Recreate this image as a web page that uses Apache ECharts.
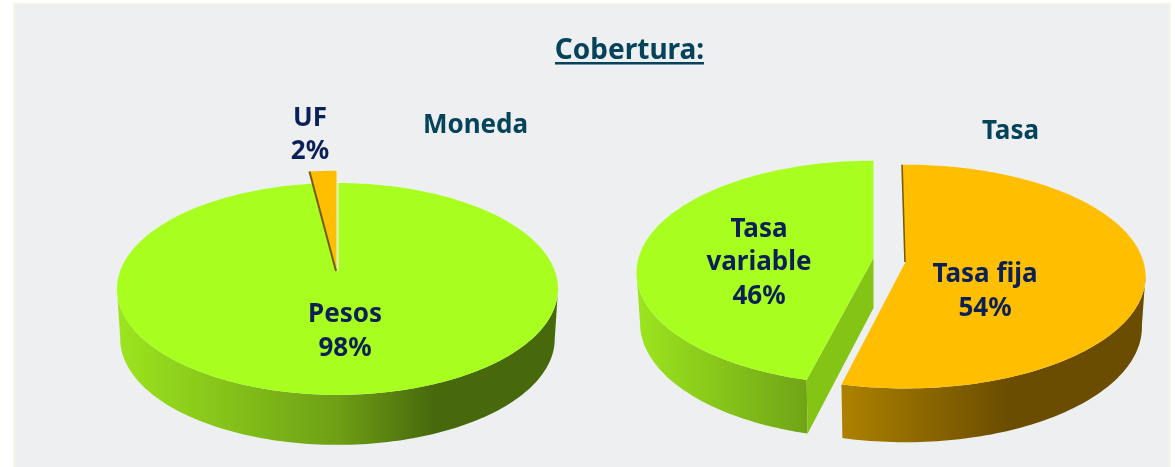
<!DOCTYPE html>
<html><head><meta charset="utf-8">
<style>html,body{margin:0;padding:0;background:#fff}#c{width:1175px;height:467px}</style>
<script src="https://cdn.jsdelivr.net/npm/echarts@6/dist/echarts.min.js"></script>
</head><body><div id="c"></div>
<script>
const monedaCategories = ['Pesos', 'UF'];
const monedaValues = [98, 2];
const tasaCategories = ['Tasa fija', 'Tasa variable'];
const tasaValues = [54, 46];
const chartTitle = 'Cobertura:';
const monedaTitle = 'Moneda';
const tasaTitle = 'Tasa';

const FONT = '"Noto Sans", sans-serif';
const LABEL = '#0b2056', HEAD = '#04435a', BG = '#edeff1';

const chart = echarts.init(document.getElementById('c'), null, {renderer: 'canvas'});

function hgrad(x0, x1, stops) {
  return new echarts.graphic.LinearGradient(x0, 0, x1, 0,
    stops.map(s => ({offset: s[0], color: s[1]})), true);
}
const GREEN_TOP = '#a8ff1f', ORANGE_TOP = '#ffbf00';

// Perspective disc: turn (share of circle, radius) into a pixel position.
function project(p, share, r, lower) {
  const a = (share / 100) * 2 * Math.PI + (p.rot || 0);
  const X = Math.sin(a) * r, Y = -Math.cos(a) * r;
  const w = 1 - p.persp * Y;
  const sx = lower ? p.lowSX : 1, sy = lower ? p.lowSY : 1, dy = lower ? p.depth : 0;
  return [p.cx + p.B * sx * X / w, p.cy + dy + p.A * sy * Y / w];
}
function arc(p, s0, s1, r, lower) {
  const pts = [], n = Math.max(2, Math.ceil((s1 - s0) * 3));
  for (let i = 0; i <= n; i++) pts.push(project(p, s0 + (s1 - s0) * i / n, r, lower));
  return pts;
}

function makeRender(categories, layout) {
  return function (params, api) {
    const i = params.dataIndex;
    const start = api.value(0), val = api.value(1);
    const sl = layout.slices[i];
    const p = Object.assign({}, layout.disc, {
      cx: layout.disc.cx + sl.dx, cy: layout.disc.cy + sl.dy,
      B: sl.B || layout.disc.B, rot: (sl.rotDeg || 0) * Math.PI / 180
    });
    const r = sl.r || 1;
    const end = start + val;
    const children = [];
    const top = arc(p, start, end, r, false);
    if (sl.side) {
      // Wall runs only between the two points where the disc outline turns (front half).
      const turn = Math.acos(-p.persp) / (2 * Math.PI) * 100;
      const s0 = Math.max(start, turn), s1 = Math.min(end, 100 - turn);
      const upper = arc(p, s0, s1, r, false), low = arc(p, s0, s1, r, true);
      children.push({type: 'polygon', shape: {points: upper.concat(low.slice().reverse())},
        style: {fill: hgrad(sl.side.x0, sl.side.x1, sl.side.stops)}});
    }
    if (sl.cut !== undefined) {
      const cs = sl.cut === 'start' ? start : end;
      const c = project(p, 0, 0, false), cl = project(p, 0, 0, true);
      children.push({type: 'polygon', shape: {points: [c, project(p, cs, r, false), project(p, cs, r, true), cl]},
        style: {fill: sl.cutColor}});
    }
    const apex = project(p, 0, 0, false);
    children.push({type: 'polygon', shape: {points: [apex].concat(top)}, style: {fill: sl.color}});
    (sl.edges || []).forEach(e => {
      const rim = project(p, e.at === 'start' ? start : end, r, false);
      children.push({type: 'line', shape: {x1: apex[0] + e.off, y1: apex[1], x2: rim[0] + e.off, y2: rim[1]},
        style: {stroke: e.color, lineWidth: e.width}});
    });
    const lab = sl.labelLines(categories[i], val);
    children.push({type: 'text', style: {text: lab, x: sl.lx, y: sl.ly, align: 'center', verticalAlign: 'middle',
      fill: LABEL, font: 'bold 26px ' + FONT, lineHeight: 33.5}, z2: 10});
    return {type: 'group', children};
  };
}

const oneWordLabel = (n, v) => n + '\n' + v + '%';
const wrapLabel = (n, v) => n.replace(' ', '\n') + '\n' + v + '%';

const monedaLayout = {
  disc: {cx: 337.5, cy: 272, A: 103.2, B: 217.7, persp: 0.16, depth: 50, lowSX: 0.985, lowSY: 1},
  slices: [
    {dx: 0, dy: 0, color: GREEN_TOP, lx: 345, ly: 331.5, labelLines: oneWordLabel,
     side: {x0: 117, x1: 558, stops: [[0, '#9ce51e'], [0.5, '#6e9f15'], [0.72, '#47690c'], [1, '#47690c']]}},
    {dx: -1, dy: -1, r: 1.15, color: ORANGE_TOP, lx: 310, ly: 135, labelLines: oneWordLabel,
     edges: [{at: 'start', off: -0.5, color: '#7a5a00', width: 2}, {at: 'end', off: 1.5, color: '#e9f3d8', width: 1}]}
  ]
};
const tasaLayout = {
  disc: {cx: 889, cy: 260, A: 110, B: 236, persp: 0.13, depth: 50, lowSX: 0.985, lowSY: 1.03},
  slices: [
    {dx: 16.5, dy: 2, B: 238, rotDeg: -0.8, color: ORANGE_TOP, lx: 985, ly: 291.5, labelLines: oneWordLabel,
     side: {x0: 844, x1: 1144, stops: [[0, '#ad8000'], [0.55, '#6a4d00'], [1, '#6a4d00']]},
     edges: [{at: 'start', off: -0.5, color: '#7a5a00', width: 1.6}]},
    {dx: -15.5, dy: -2, B: 235, color: GREEN_TOP, lx: 759, ly: 263, labelLines: wrapLabel,
     side: {x0: 637, x1: 806, stops: [[0, '#9ce51e'], [1, '#70a416']]},
     cut: 'start', cutColor: '#84c414'}
  ]
};

function sliceData(values) {
  let c = 0;
  return values.map(v => { const d = [c, v]; c += v; return d; });
}

chart.setOption({
  backgroundColor: '#fff',
  animation: false,
  title: [
    {text: chartTitle, left: 624.5, top: 32, textAlign: 'center',
     textStyle: {fontFamily: FONT, fontWeight: 'bold', fontSize: 28, color: HEAD}},
    {text: monedaTitle, left: 470.5, top: 108, textAlign: 'center',
     textStyle: {fontFamily: FONT, fontWeight: 'bold', fontSize: 26, color: HEAD}},
    {text: tasaTitle, left: 1005.5, top: 114, textAlign: 'center',
     textStyle: {fontFamily: FONT, fontWeight: 'bold', fontSize: 26, color: HEAD}}
  ],
  graphic: [
    {type: 'rect', z: -10, silent: true, shape: {x: 14.5, y: 4, width: 1155, height: 470},
     style: {fill: BG, stroke: '#f5f1e2', lineWidth: 2}},
    {type: 'rect', z: 5, silent: true, shape: {x: 555, y: 62, width: 149, height: 2.5}, style: {fill: HEAD}}
  ],
  series: [
    {type: 'custom', coordinateSystem: 'none', renderItem: makeRender(monedaCategories, monedaLayout), data: sliceData(monedaValues), silent: true, clip: false},
    {type: 'custom', coordinateSystem: 'none', renderItem: makeRender(tasaCategories, tasaLayout), data: sliceData(tasaValues), silent: true, clip: false}
  ]
});
</script></body></html>
